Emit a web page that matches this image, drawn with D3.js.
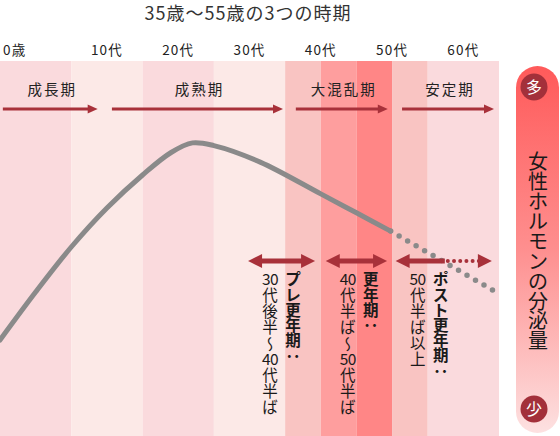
<!DOCTYPE html>
<html>
<head>
<meta charset="utf-8">
<script src="https://cdn.jsdelivr.net/npm/d3@7/dist/d3.min.js"></script>
<style>
  body { margin: 0; background: #fff; }
  svg { display: block; font-family: "Noto Sans CJK JP", "Noto Sans", sans-serif; }
  .vert { writing-mode: vertical-rl; text-orientation: mixed; }
</style>
</head>
<body>
<div id="chart"></div>
<script>
// data
var titleText = "35歳〜55歳の3つの時期";
var decadeLabels = ["0歳", "10代", "20代", "30代", "40代", "50代", "60代"];
var decadeAges = [0, 10, 20, 30, 40, 50, 60];
var bandEdges = [0, 10, 20, 30, 40, 45, 50, 55, 60, 70];

var curveAges = [0, 5, 10, 15, 20, 24, 27, 30, 36.5, 45, 50, 54.8];
var curveLevels = [32, 48, 63, 76, 87, 94.5, 97.7, 96.8, 91.3, 80.7, 74.4, 68.3];
var projAges = [54.8, 69.8];
var projLevels = [68.3, 47.7];

var stageNames = ["成長期", "成熟期", "大混乱期", "安定期"];
var stageStart = [0.4, 15.7, 41.5, 56.4];
var stageEnd = [13.7, 39.7, 54.4, 69.3];

var periodNames = ["プレ更年期：", "更年期：", "ポスト更年期："];
var periodRanges = ["30代後半〜40代半ば", "40代半ば〜50代半ば", "50代半ば以上"];
var periodStart = [34.8, 45.7, 55.5];
var periodSolidEnd = [44.2, 54.3, 62.4];
var periodEnd = [44.2, 54.3, 69.0];

var hormoneLabel = "女性ホルモンの分泌量";
var hormoneHigh = "多";
var hormoneLow = "少";

// styles
var bandColors = ["#fadadd", "#fce9e7", "#fadadd", "#fce9e7", "#f9c4c2", "#fe9e9e", "#ff8686", "#f9c4c2", "#fadadd"];
var arrowColor = "#a8313a";
var lineColor = "#8a8a8a";

var W = 560, H = 436;
var bandTop = 61;

var svg = d3.select("#chart").append("svg")
    .attr("width", W)
    .attr("height", H);

var x = d3.scaleLinear().domain([0, 70]).range([0, 499]);
var y = d3.scaleLinear().domain([0, 100]).range([436, 136]);

// background bands
var bands = d3.range(bandEdges.length - 1).map(function(i) {
    return { a: bandEdges[i], b: bandEdges[i + 1], c: bandColors[i] };
});
svg.append("g").selectAll("rect")
    .data(bands)
    .enter()
    .append("rect")
    .attr("x", function(d) { return x(d.a); })
    .attr("width", function(d) { return x(d.b) - x(d.a); })
    .attr("y", bandTop)
    .attr("height", H - bandTop)
    .attr("fill", function(d) { return d.c; });

// title
svg.append("text")
    .attr("x", 248)
    .attr("y", 20)
    .attr("text-anchor", "middle")
    .attr("font-size", "18px")
    .attr("letter-spacing", "1px")
    .attr("fill", "#333")
    .text(titleText);

// decade labels
svg.append("g").selectAll("text")
    .data(decadeLabels)
    .enter()
    .append("text")
    .attr("x", function(d, i) { return i == 0 ? 3 : x(decadeAges[i] + 5); })
    .attr("y", 55)
    .attr("text-anchor", function(d, i) { return i == 0 ? "start" : "middle"; })
    .attr("font-size", "13.5px")
    .attr("letter-spacing", "1.2px")
    .attr("fill", "#222")
    .text(function(d) { return d; });

// arrows
function arrowRight(g, x1, x2, yy, w, hl, hw, color) {
    g.append("line")
        .attr("x1", x1).attr("x2", x2 - hl + 1)
        .attr("y1", yy).attr("y2", yy)
        .attr("stroke", color).attr("stroke-width", w);
    g.append("path")
        .attr("d", "M" + x2 + "," + yy + "L" + (x2 - hl) + "," + (yy - hw / 2) + "L" + (x2 - hl) + "," + (yy + hw / 2) + "Z")
        .attr("fill", color);
}
function arrowLeft(g, x1, yy, hl, hw, color) {
    g.append("path")
        .attr("d", "M" + x1 + "," + yy + "L" + (x1 + hl) + "," + (yy - hw / 2) + "L" + (x1 + hl) + "," + (yy + hw / 2) + "Z")
        .attr("fill", color);
}

var stageG = svg.append("g");
stageNames.forEach(function(name, i) {
    var x1 = x(stageStart[i]), x2 = x(stageEnd[i]);
    arrowRight(stageG, x1, x2, 109, 3, 10, 9, arrowColor);
    stageG.append("text")
        .attr("x", (x1 + x2) / 2 + 2)
        .attr("y", 95)
        .attr("text-anchor", "middle")
        .attr("font-size", "14.5px")
        .attr("letter-spacing", "2px")
        .attr("fill", "#222")
        .text(name);
});

// hormone curve
var pts = curveAges.map(function(a, i) { return [x(a), y(curveLevels[i])]; });
var line = d3.line().curve(d3.curveCatmullRom);
svg.append("path")
    .attr("d", line(pts))
    .attr("fill", "none")
    .attr("stroke", lineColor)
    .attr("stroke-width", 5)
    .attr("stroke-linecap", "round");

var proj = projAges.map(function(a, i) { return [x(a), y(projLevels[i])]; });
svg.append("path")
    .attr("d", d3.line()(proj))
    .attr("fill", "none")
    .attr("stroke", lineColor)
    .attr("stroke-width", 5.5)
    .attr("stroke-linecap", "round")
    .attr("stroke-dasharray", "0 9.8");

// split text into vertical tokens: digit runs stay together in one cell
function splitTokens(s) {
    var out = [];
    Array.from(s).forEach(function(c) {
        if (/[0-9]/.test(c) && out.length && /^[0-9]+$/.test(out[out.length - 1])) {
            out[out.length - 1] += c;
        } else {
            out.push(c);
        }
    });
    return out;
}

// chars that need their vertical glyph form
var needsVert = { "〜": true, "：": true };

function verticalText(g, s, cx, yTop, pitch, size, weight) {
    splitTokens(s).forEach(function(tok, i) {
        var top = yTop + i * pitch;
        var t = g.append("text")
            .attr("font-size", size + "px")
            .attr("font-weight", weight)
            .attr("fill", "#1a1a1a")
            .text(tok);
        if (needsVert[tok]) {
            t.attr("class", "vert")
                .attr("x", cx)
                .attr("y", top);
        } else {
            t.attr("x", cx)
                .attr("y", top + size * 0.86)
                .attr("text-anchor", "middle");
            if (/^[0-9]+$/.test(tok)) t.attr("letter-spacing", "-0.5px");
        }
    });
}

// period double arrows
var periodG = svg.append("g");
var ay = 261;
periodNames.forEach(function(name, i) {
    var x1 = x(periodStart[i]), xs = x(periodSolidEnd[i]), x2 = x(periodEnd[i]);
    periodG.append("line")
        .attr("x1", x1 + 10).attr("x2", i == 2 ? xs : x2 - 10)
        .attr("y1", ay).attr("y2", ay)
        .attr("stroke", arrowColor).attr("stroke-width", 5);
    if (i == 2) {
        periodG.append("line")
            .attr("x1", xs + 3).attr("x2", x2 - 13)
            .attr("y1", ay).attr("y2", ay)
            .attr("stroke", arrowColor).attr("stroke-width", 4)
            .attr("stroke-linecap", "round")
            .attr("stroke-dasharray", "0 6.2");
    }
    arrowLeft(periodG, x1, ay, 14, 14, arrowColor);
    periodG.append("path")
        .attr("d", "M" + x2 + "," + ay + "L" + (x2 - 14) + "," + (ay - 7) + "L" + (x2 - 14) + "," + (ay + 7) + "Z")
        .attr("fill", arrowColor);

    verticalText(periodG, periodRanges[i], x1 + 22, 272, 16, 15.5, "normal");
    verticalText(periodG, name, x1 + 45, 272, 15.2, 15.5, "bold");
});

// right hormone bar
var defs = svg.append("defs");
var grad = defs.append("linearGradient")
    .attr("id", "hormoneGrad")
    .attr("x1", 0).attr("y1", 0).attr("x2", 0).attr("y2", 1);
grad.append("stop").attr("offset", "0%").attr("stop-color", "#ff5a5a");
grad.append("stop").attr("offset", "50%").attr("stop-color", "#fe8f8f");
grad.append("stop").attr("offset", "100%").attr("stop-color", "#fde1e1");

var barG = svg.append("g");
barG.append("rect")
    .attr("x", 516).attr("y", 66)
    .attr("width", 43).attr("height", 367)
    .attr("rx", 21.5)
    .attr("fill", "url(#hormoneGrad)");

[[hormoneHigh, 87], [hormoneLow, 409]].forEach(function(d) {
    barG.append("circle")
        .attr("cx", 534).attr("cy", d[1]).attr("r", 13.5)
        .attr("fill", "#a3303a");
    barG.append("text")
        .attr("x", 534).attr("y", d[1])
        .attr("dy", "0.36em")
        .attr("text-anchor", "middle")
        .attr("font-size", "16px")
        .attr("fill", "#fff")
        .text(d[0]);
});

verticalText(barG, hormoneLabel, 538, 152, 19.9, 20, "normal");
</script>
</body>
</html>
